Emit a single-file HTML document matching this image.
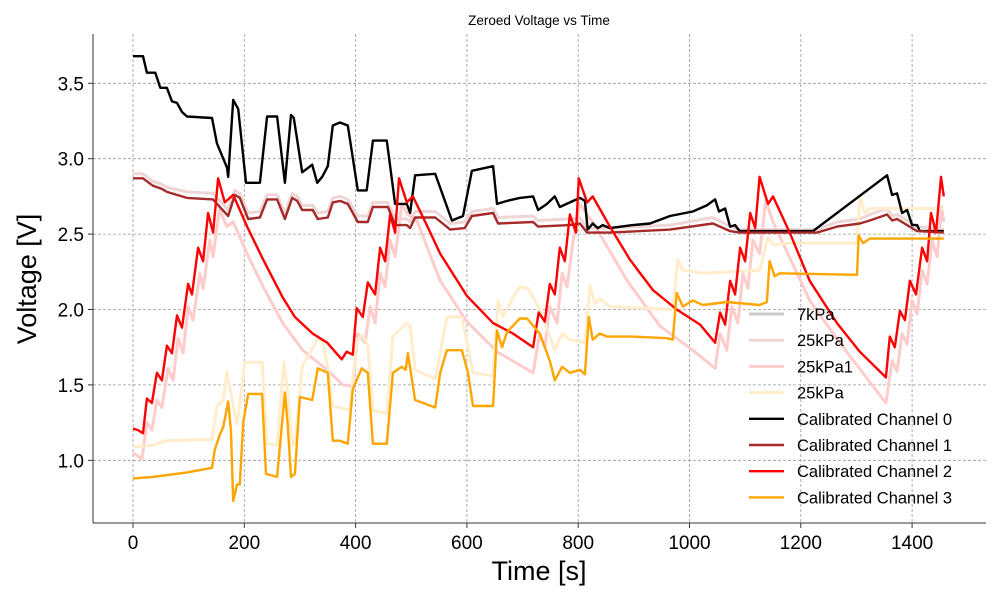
<!DOCTYPE html>
<html><head><meta charset="utf-8"><style>
html,body{margin:0;padding:0;background:#fff;}
svg{display:block;font-family:"Liberation Sans","DejaVu Sans",sans-serif;}
</style></head><body>
<svg id="chart" width="1000" height="600" viewBox="0 0 1000 600" xmlns="http://www.w3.org/2000/svg">
<text x="539" y="25" font-size="13.5" text-anchor="middle" fill="#000">Zeroed Voltage vs Time</text>
<g id="grid"></g>
<g id="series"></g>
<g id="axes"></g>
<text x="539" y="580" font-size="27" text-anchor="middle" fill="#000">Time [s]</text>
<text x="0" y="0" font-size="27" text-anchor="middle" fill="#000" transform="translate(36,279) rotate(-90)">Voltage [V]</text>
<g id="legend"></g>
</svg>
<script>
const xTicks=[0,200,400,600,800,1000,1200,1400];
const yTicks=[1.0,1.5,2.0,2.5,3.0,3.5];
const seriesNames=["7kPa","25kPa","25kPa1","25kPa","Calibrated Channel 0","Calibrated Channel 1","Calibrated Channel 2","Calibrated Channel 3"];
const seriesColors=["#cccccc","#eed6d6","#ffcccc","#ffedcc","#000000","#a52a2a","#ff0000","#ffa500"];

const ch0T=[0,18,25,40,49,61,70,79,88,97,142,151,169,171,180,189,203,228,241,259,273,284,289,304,322,331,340,350,359,372,386,404,420,431,456,471,492,498,507,543,573,593,609,647,654,672,695,719,728,744,758,767,785,803,812,817,826,835,844,857,898,929,965,1006,1031,1046,1053,1064,1073,1082,1090,1222,1355,1364,1373,1382,1391,1400,1409,1414,1457];
const ch0V=[3.68,3.68,3.57,3.57,3.47,3.47,3.38,3.37,3.31,3.28,3.27,3.10,2.94,2.88,3.39,3.33,2.84,2.84,3.28,3.28,2.84,3.29,3.27,2.91,2.96,2.84,2.88,2.95,3.22,3.24,3.22,2.79,2.79,3.12,3.12,2.70,2.70,2.64,2.89,2.90,2.59,2.62,2.92,2.95,2.70,2.72,2.74,2.75,2.66,2.70,2.75,2.68,2.71,2.74,2.72,2.53,2.57,2.54,2.56,2.54,2.56,2.57,2.62,2.65,2.69,2.73,2.65,2.67,2.55,2.56,2.52,2.52,2.89,2.76,2.77,2.64,2.66,2.56,2.56,2.52,2.52];

const ch1T=[0,18,25,36,52,61,97,144,156,171,183,192,207,228,241,259,273,286,295,304,323,332,350,359,372,386,404,422,431,458,471,492,498,507,543,570,596,609,647,656,719,728,785,803,816,857,965,1042,1073,1090,1229,1265,1306,1324,1355,1364,1373,1391,1409,1457];
const ch1V=[2.87,2.87,2.85,2.82,2.80,2.78,2.74,2.73,2.68,2.62,2.76,2.74,2.60,2.61,2.73,2.73,2.60,2.74,2.72,2.66,2.66,2.60,2.61,2.71,2.72,2.70,2.58,2.58,2.68,2.68,2.56,2.56,2.54,2.61,2.61,2.53,2.54,2.62,2.64,2.57,2.58,2.55,2.56,2.57,2.51,2.51,2.53,2.57,2.52,2.51,2.51,2.55,2.57,2.59,2.63,2.59,2.60,2.56,2.52,2.51];
const ch1fV=[2.90,2.90,2.88,2.85,2.83,2.81,2.78,2.77,2.72,2.66,2.79,2.77,2.64,2.65,2.76,2.76,2.64,2.77,2.75,2.69,2.69,2.64,2.65,2.74,2.75,2.73,2.62,2.62,2.71,2.71,2.60,2.60,2.58,2.65,2.65,2.57,2.58,2.65,2.67,2.61,2.62,2.59,2.60,2.61,2.54,2.54,2.56,2.61,2.55,2.53,2.53,2.58,2.60,2.63,2.67,2.62,2.63,2.59,2.55,2.53];

const ch2T=[0,9,18,25,34,43,52,61,70,79,88,99,106,117,126,135,144,153,165,180,205,234,269,291,323,349,375,384,395,402,413,422,435,444,453,462,471,478,492,503,528,552,600,647,683,719,729,740,749,758,767,776,785,796,801,816,826,857,893,934,977,1019,1046,1055,1064,1073,1082,1091,1100,1109,1118,1126,1141,1150,1180,1216,1265,1306,1353,1360,1369,1378,1387,1396,1407,1418,1427,1434,1443,1452,1457];
const ch2V=[1.21,1.20,1.18,1.41,1.38,1.58,1.53,1.76,1.71,1.96,1.88,2.17,2.10,2.41,2.32,2.64,2.51,2.87,2.71,2.76,2.55,2.33,2.08,1.95,1.84,1.78,1.67,1.72,1.70,2.01,1.95,2.18,2.10,2.41,2.32,2.63,2.51,2.87,2.71,2.75,2.56,2.37,2.09,1.91,1.84,1.75,1.98,1.92,2.17,2.10,2.41,2.32,2.63,2.51,2.87,2.71,2.75,2.55,2.33,2.13,2.00,1.90,1.78,1.98,1.90,2.19,2.10,2.41,2.32,2.64,2.54,2.88,2.70,2.75,2.51,2.19,1.91,1.72,1.55,1.82,1.75,1.99,1.93,2.19,2.10,2.41,2.32,2.64,2.51,2.88,2.75];

const ch2fT=[0,16,25,34,43,52,63,72,81,90,99,108,120,126,138,144,155,169,180,205,234,269,305,349,377,395,404,417,426,435,444,453,462,471,483,494,510,552,600,654,719,731,740,749,762,771,780,791,803,816,826,888,947,1006,1046,1055,1067,1076,1087,1096,1105,1114,1126,1137,1150,1216,1276,1353,1364,1373,1382,1391,1400,1409,1418,1427,1436,1445,1453,1457];
const ch2fV=[1.05,1.01,1.25,1.20,1.40,1.35,1.61,1.53,1.81,1.71,2.02,1.93,2.24,2.14,2.46,2.35,2.66,2.55,2.58,2.37,2.15,1.91,1.73,1.60,1.50,1.49,1.84,1.78,2.02,1.91,2.24,2.15,2.46,2.35,2.70,2.63,2.59,2.19,1.92,1.72,1.58,1.84,1.75,2.02,1.91,2.24,2.15,2.46,2.70,2.63,2.58,2.19,1.89,1.73,1.61,1.84,1.73,2.02,1.91,2.24,2.14,2.46,2.37,2.72,2.58,2.06,1.75,1.38,1.66,1.59,1.84,1.77,2.06,1.97,2.26,2.17,2.46,2.35,2.68,2.58];

const ch3T=[0,36,97,142,147,156,162,171,176,180,187,192,198,207,232,239,259,273,278,284,291,300,322,332,350,359,372,386,395,411,422,431,456,467,483,490,494,507,543,552,564,591,602,611,647,654,663,672,695,708,731,749,758,771,785,803,812,819,826,839,852,898,959,970,977,988,1006,1024,1067,1126,1139,1144,1153,1162,1301,1304,1312,1324,1457];
const ch3V=[0.88,0.89,0.92,0.95,1.07,1.17,1.22,1.39,1.20,0.73,0.84,0.84,1.25,1.44,1.44,0.91,0.89,1.45,1.24,0.89,0.91,1.42,1.40,1.61,1.58,1.13,1.13,1.11,1.47,1.61,1.58,1.11,1.11,1.58,1.62,1.60,1.71,1.40,1.35,1.58,1.73,1.73,1.58,1.36,1.36,1.86,1.75,1.85,1.94,1.94,1.84,1.66,1.53,1.62,1.58,1.60,1.57,1.95,1.80,1.84,1.82,1.82,1.81,1.80,2.11,2.02,2.06,2.03,2.05,2.03,2.05,2.32,2.22,2.24,2.23,2.49,2.44,2.47,2.47];

const ch3fT=[0,36,61,142,151,162,169,178,187,201,232,241,259,271,278,286,291,304,331,340,350,359,390,402,411,422,431,456,467,492,498,507,543,564,591,611,647,656,665,683,695,710,731,749,758,771,785,812,821,830,839,857,970,979,988,1024,1126,1141,1150,1180,1301,1306,1315,1324,1457];
const ch3fV=[1.09,1.10,1.13,1.14,1.36,1.40,1.59,1.40,1.24,1.65,1.65,1.11,1.10,1.65,1.45,1.10,1.11,1.62,1.80,1.80,1.62,1.36,1.33,1.80,1.83,1.77,1.33,1.31,1.82,1.91,1.89,1.60,1.54,1.95,1.95,1.58,1.56,2.06,1.95,2.08,2.15,2.14,2.00,1.82,1.73,1.84,1.80,1.78,2.16,2.04,2.07,2.02,2.00,2.33,2.26,2.24,2.26,2.48,2.43,2.44,2.44,2.75,2.64,2.67,2.67];

const X0=133, XS=111.3/200, Y1=460.3, YS=150.8;
const PL=93, PR=986, PT=34, PB=523;
function xs(t){return X0+t*XS;}
function ys(v){return Y1-(v-1)*YS;}
const NS="http://www.w3.org/2000/svg";
function mk(tag,parent){const e=document.createElementNS(NS,tag);parent.appendChild(e);return e;}

const grid=document.getElementById('grid');
const axes=document.getElementById('axes');
xTicks.forEach(t=>{
  const g=mk('line',grid);
  
  
  g.setAttribute('x1',xs(t));g.setAttribute('x2',xs(t));g.setAttribute('y1',PT);g.setAttribute('y2',PB);
  g.setAttribute('stroke','#999');g.setAttribute('stroke-width','0.8');g.setAttribute('stroke-dasharray','3,2');
  const tk=mk('line',axes);
  
  
  tk.setAttribute('x1',xs(t));tk.setAttribute('x2',xs(t));tk.setAttribute('y1',PB);tk.setAttribute('y2',PB+5);tk.setAttribute('stroke','#333');
  const lb=mk('text',axes);
  
  
  lb.setAttribute('x',xs(t));lb.setAttribute('y',PB+26);lb.setAttribute('font-size','19');lb.setAttribute('text-anchor','middle');
  lb.textContent=t;
});
yTicks.forEach(v=>{
  const g=mk('line',grid);
  
  
  g.setAttribute('x1',PL);g.setAttribute('x2',PR);g.setAttribute('y1',ys(v));g.setAttribute('y2',ys(v));
  g.setAttribute('stroke','#999');g.setAttribute('stroke-width','0.8');g.setAttribute('stroke-dasharray','3,2');
  const tk=mk('line',axes);
  
  
  tk.setAttribute('x1',PL-5);tk.setAttribute('x2',PL);tk.setAttribute('y1',ys(v));tk.setAttribute('y2',ys(v));tk.setAttribute('stroke','#333');
  const lb=mk('text',axes);
  
  
  lb.setAttribute('x',PL-9);lb.setAttribute('y',ys(v)+7);lb.setAttribute('font-size','19');lb.setAttribute('text-anchor','end');
  lb.textContent=v.toFixed(1);
});
const sp1=mk('line',axes);


sp1.setAttribute('x1',PL);sp1.setAttribute('x2',PL);sp1.setAttribute('y1',PT);sp1.setAttribute('y2',PB);sp1.setAttribute('stroke','#333');
const sp2=mk('line',axes);


sp2.setAttribute('x1',PL);sp2.setAttribute('x2',PR);sp2.setAttribute('y1',PB);sp2.setAttribute('y2',PB);sp2.setAttribute('stroke','#333');

const ser=document.getElementById('series');
function drawLine(T,V,color,w,name){
  const p=mk('polyline',ser);
  
  
  p.setAttribute('points',T.map((t,i)=>xs(t).toFixed(1)+','+ys(V[i]).toFixed(1)).join(' '));
  p.setAttribute('fill','none');p.setAttribute('stroke',color);p.setAttribute('stroke-width',w);p.setAttribute('stroke-linejoin','round');
}
drawLine(ch1T,ch1fV,seriesColors[1],3,'series-25kpa');
drawLine(ch2fT,ch2fV,seriesColors[2],3,'series-25kpa1');
drawLine(ch3fT,ch3fV,seriesColors[3],3,'series-25kpa-b');
drawLine(ch0T,ch0V,seriesColors[4],2.4,'series-calibrated-channel-0');
drawLine(ch1T,ch1V,seriesColors[5],2.4,'series-calibrated-channel-1');
drawLine(ch2T,ch2V,seriesColors[6],2.4,'series-calibrated-channel-2');
drawLine(ch3T,ch3V,seriesColors[7],2.4,'series-calibrated-channel-3');

const leg=document.getElementById('legend');
seriesNames.forEach((n,i)=>{
  const y=314+i*26.2;
  const l=mk('line',leg);
  
  
  l.setAttribute('x1',749);l.setAttribute('x2',784);l.setAttribute('y1',y);l.setAttribute('y2',y);
  l.setAttribute('stroke',seriesColors[i]);l.setAttribute('stroke-width',i<4?3:2.4);
  const t=mk('text',leg);
  
  
  t.setAttribute('x',797);t.setAttribute('y',y+6);t.setAttribute('font-size','16.5');
  t.textContent=n;
});
</script>
</body></html>
